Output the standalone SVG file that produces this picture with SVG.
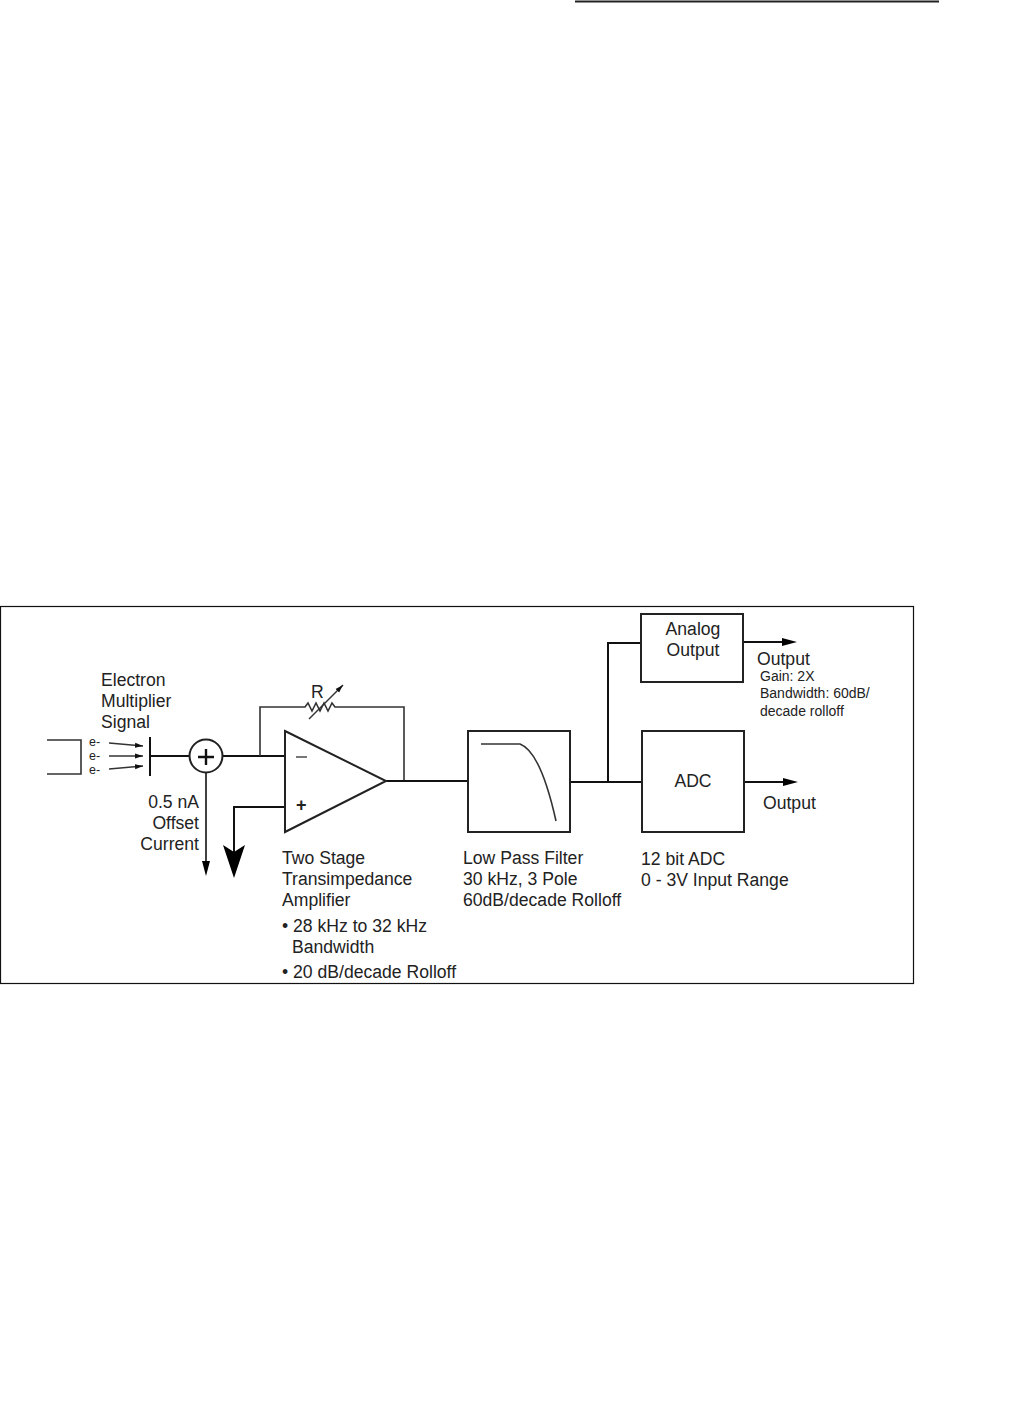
<svg xmlns="http://www.w3.org/2000/svg" width="1016" height="1411" viewBox="0 0 1016 1411">
<style>
text{font-family:"Liberation Sans",Arial,sans-serif;font-size:17.6px;fill:#222}
.s{font-size:14px}
.e{font-size:12.5px}
.l{fill:none;stroke:#111;stroke-width:2}
.t{fill:none;stroke:#333;stroke-width:1.4}
.box{fill:#fff;stroke:#222;stroke-width:2}
</style>
<defs>
<marker id="a" markerUnits="userSpaceOnUse" markerWidth="16" markerHeight="10" refX="8" refY="5" orient="auto"><path d="M0 1L15 5L0 9Z" fill="#000"/></marker>
<marker id="c" markerUnits="userSpaceOnUse" markerWidth="16" markerHeight="9" refX="8" refY="4" orient="auto"><path d="M0 0L15 4L0 8Z" fill="#000"/></marker>
<marker id="d" markerUnits="userSpaceOnUse" markerWidth="34" markerHeight="23" refX="15" refY="11" orient="auto"><path d="M0 0L33 11L0 22L7 11Z" fill="#000"/></marker>
<marker id="b" markerUnits="userSpaceOnUse" markerWidth="9" markerHeight="6" refX="8" refY="3" orient="auto"><path d="M0 .5L8 3L0 5.5Z" fill="#111"/></marker>
</defs>
<rect width="1016" height="1411" fill="#fff"/>
<path d="M575 1.5H939" stroke="#222" stroke-width="2" fill="none"/>
<rect id="frame" x="0.5" y="606.5" width="913" height="377" fill="none" stroke="#111" stroke-width="1.2"/>
<g id="connectors">
<path class="t" d="M47 740H81V774H47" style="stroke-width:1.6"/>
<path class="t" d="M109 743L143 746" marker-end="url(#b)"/>
<path class="t" d="M109 756H143" marker-end="url(#b)"/>
<path class="t" d="M109 769L143 766" marker-end="url(#b)"/>
<path class="l" d="M150 737V776"/>
<path class="l" d="M150 756H189"/>
<path class="l" d="M222 756H285"/>
<path class="l" d="M206 773V869" marker-end="url(#c)" style="stroke-width:1.6"/>
<path class="l" d="M285 807H234V860" marker-end="url(#d)"/>
<path class="t" d="M260 756V707H305L308 703L312 711L316 703L320 711L324 703L328 711L332 703L335 707H404V781" style="stroke-width:1.6"/>
<path class="t" d="M309 719L343 685" marker-end="url(#b)"/>
<path class="l" d="M386 781H468"/>
<path class="l" d="M570 782H641"/>
<path class="l" d="M608 782V643H641"/>
<path class="l" d="M743 642H790" marker-end="url(#a)"/>
<path class="l" d="M744 782H791" marker-end="url(#a)"/>
</g>
<g id="source"><text class="e" x="89" y="746">e-</text><text class="e" x="89" y="760">e-</text><text class="e" x="89" y="774">e-</text></g>
<g id="signal-label"><text x="101" y="686">Electron</text><text x="101" y="707">Multiplier</text><text x="101" y="728">Signal</text></g>
<g id="summer"><circle cx="206" cy="756" r="16.5" class="box"/><path class="l" d="M198 757H214M206 749V765" style="stroke-width:2.4"/></g>
<g id="offset-label"><text x="199" y="808" text-anchor="end">0.5 nA</text><text x="199" y="829" text-anchor="end">Offset</text><text x="199" y="850" text-anchor="end">Current</text></g>
<g id="amplifier"><path class="box" d="M285 731L386 781L285 832Z"/><path d="M296 757H307" stroke="#777" stroke-width="2"/><text x="296" y="811" style="font-weight:bold;font-size:18px">+</text></g>
<g id="resistor-label"><text x="311" y="698">R</text></g>
<g id="amplifier-label"><text x="282" y="864">Two Stage</text><text x="282" y="885">Transimpedance</text><text x="282" y="906">Amplifier</text><text x="282" y="932">• 28 kHz to 32 kHz</text><text x="292" y="953">Bandwidth</text><text x="282" y="978">• 20 dB/decade Rolloff</text></g>
<g id="filter"><rect class="box" x="468" y="731" width="102" height="101"/><path class="t" d="M481 744H520C536 750 548 785 556 821" style="stroke-width:1.6"/></g>
<g id="filter-label"><text x="463" y="864">Low Pass Filter</text><text x="463" y="885">30 kHz, 3 Pole</text><text x="463" y="906">60dB/decade Rolloff</text></g>
<g id="analog-output"><rect class="box" x="641" y="614" width="102" height="68"/><text x="693" y="635" text-anchor="middle">Analog</text><text x="693" y="656" text-anchor="middle">Output</text></g>
<g id="analog-label"><text x="757" y="665">Output</text><text class="s" x="760" y="681">Gain: 2X</text><text class="s" x="760" y="698">Bandwidth: 60dB/</text><text class="s" x="760" y="716">decade rolloff</text></g>
<g id="adc"><rect class="box" x="642" y="731" width="102" height="101"/><text x="693" y="787" text-anchor="middle">ADC</text></g>
<g id="adc-label"><text x="763" y="809">Output</text><text x="641" y="865">12 bit ADC</text><text x="641" y="886">0 - 3V Input Range</text></g>
</svg>
